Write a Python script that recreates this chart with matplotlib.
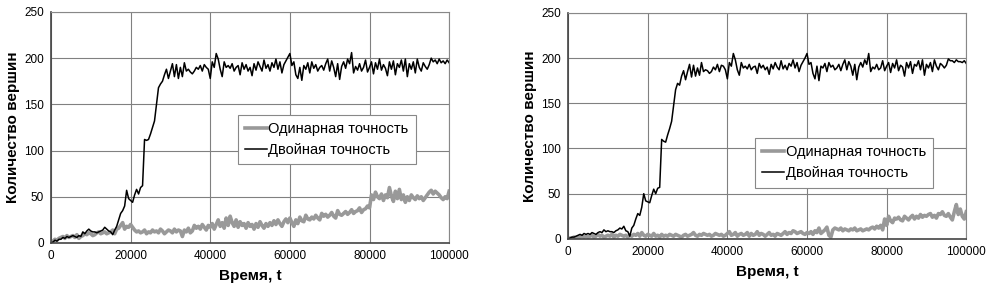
import numpy as np
import matplotlib.pyplot as plt

plt.rcParams['font.family'] = ['Liberation Sans', 'DejaVu Sans']

# time axis: every 500 steps from 0 to 100000
t = np.arange(0, 100001, 500)

# left chart
double_left = [
    0, 1, 3, 2, 4, 4, 6, 5, 7, 6,
    7, 8, 7, 6, 8, 7, 12, 10, 13, 15,
    13, 12, 12, 11, 12, 13, 14, 17, 15, 13,
    12, 9, 14, 18, 25, 32, 35, 40, 57, 48,
    46, 44, 52, 58, 53, 60, 62, 112, 111, 112,
    118, 125, 132, 150, 168, 172, 175, 182, 188, 178,
    186, 194, 180, 193, 178, 190, 180, 195, 186, 188,
    185, 183, 186, 190, 188, 192, 186, 193, 190, 188,
    178, 196, 190, 205, 199, 188, 180, 196, 190, 192,
    189, 194, 186, 190, 192, 182, 195, 188, 193, 186,
    190, 181, 194, 187, 196, 191, 186, 198, 189, 193,
    186, 195, 190, 199, 188, 196, 184, 193, 197, 201,
    205, 192, 196, 182, 178, 190, 176, 192, 188, 195,
    184, 196, 189, 193, 186, 190, 192, 187, 194, 199,
    186, 197, 190, 180, 194, 177, 191, 196, 189, 199,
    194, 206, 184, 191, 187, 194, 186, 190, 198, 185,
    190, 196, 183, 195, 188, 199, 187, 193, 189, 181,
    196, 188, 197, 182, 194, 190, 198, 186, 199, 180,
    194, 188, 196, 184, 199, 190, 186, 195, 191, 188,
    193, 200, 196, 198, 194, 199, 195, 197, 194, 198, 195,
]
single_left = [
    0, 2, 4, 3, 5, 6, 7, 5, 8, 6,
    7, 8, 6, 9, 5, 7, 8, 10, 9, 11,
    10, 8, 9, 11, 12, 10, 11, 12, 10, 11,
    12, 14, 10, 15, 16, 19, 22, 15, 18, 17,
    20, 17, 14, 12, 13, 11, 12, 14, 10, 12,
    11, 14, 12, 13, 11, 15, 13, 10, 12, 14,
    13, 11, 15, 12, 14, 13, 7, 14, 12, 16,
    11, 13, 19, 16, 18, 15, 20, 17, 14, 19,
    17, 21, 15, 20, 25, 18, 22, 16, 27, 19,
    29, 22, 18, 25, 17, 23, 19, 21, 16, 22,
    18, 20, 15, 21, 17, 23, 19, 16, 21, 18,
    22, 19, 24, 20, 25, 21, 18, 23, 26, 22,
    27, 22, 18, 25, 21, 28, 24, 23, 30, 26,
    25, 28, 26, 30, 27, 25, 32, 29, 31, 28,
    30, 33, 29, 27, 35, 31, 30, 32, 34, 31,
    33, 36, 32, 34, 35, 38, 33, 36, 37, 40,
    38, 52, 47, 55, 50, 48, 53, 46, 52, 49,
    60, 51, 45, 56, 48, 58, 47, 52, 44, 50,
    46, 52, 49, 47, 51, 48, 50, 46, 49, 52,
    55, 57, 53, 56, 54, 52, 49, 47, 50, 48, 56,
]

# right chart
double_right = [
    0, 1, 2, 2, 3, 4, 5, 4, 6, 5,
    6, 5, 7, 6, 5, 7, 8, 7, 10, 8,
    9, 8, 8, 7, 9, 10, 12, 11, 14, 9,
    8, 3, 12, 15, 22, 28, 26, 35, 50, 42,
    41, 40, 48, 55, 50, 56, 57, 110, 108, 107,
    115, 122, 130, 148, 165, 172, 170, 180, 186, 176,
    185, 193, 179, 192, 180, 189, 181, 195, 185, 187,
    186, 183, 185, 190, 187, 193, 185, 192, 191, 187,
    177, 195, 191, 205, 198, 187, 181, 195, 189, 191,
    188, 193, 187, 190, 191, 183, 194, 189, 192, 187,
    190, 182, 193, 188, 195, 190, 187, 197, 188, 192,
    187, 194, 191, 198, 189, 195, 185, 192, 196, 200,
    205, 193, 195, 183, 177, 191, 175, 191, 189, 194,
    185, 195, 190, 192, 187, 189, 193, 186, 193, 198,
    187, 196, 191, 181, 193, 176, 190, 195, 190, 198,
    193, 205, 185, 190, 188, 193, 187, 189, 197, 186,
    191, 195, 184, 194, 189, 198, 186, 192, 190, 180,
    195, 189, 196, 183, 193, 191, 197, 187, 198, 181,
    193, 189, 195, 185, 198, 191, 187, 194, 192, 189,
    192, 199, 197, 197, 195, 198, 196, 196, 195, 197, 194,
]
single_right = [
    0, 1, 1, 2, 1, 2, 2, 3, 2, 3,
    2, 3, 4, 2, 3, 5, 3, 4, 2, 3,
    4, 3, 5, 2, 4, 3, 5, 4, 3, 4,
    2, 4, 3, 5, 4, 6, 3, 7, 4, 3,
    5, 4, 3, 6, 3, 4, 2, 5, 3, 4,
    3, 5, 4, 3, 5, 4, 3, 2, 4, 5,
    3, 4, 5, 7, 4, 3, 5, 4, 6, 5,
    4, 5, 3, 4, 6, 5, 4, 5, 3, 4,
    6, 8, 4, 5, 7, 3, 5, 6, 4, 5,
    7, 3, 6, 4, 5, 8, 4, 6, 5, 3,
    5, 7, 4, 5, 3, 6, 5, 4, 6, 8,
    5, 7, 6, 9, 8, 6, 7, 8, 6, 5,
    7, 6, 8, 5, 9, 7, 12, 6, 8, 10,
    13, 4, 2, 10, 12, 11, 10, 12, 9, 11,
    10, 9, 11, 10, 12, 9, 10, 11, 9, 10,
    11, 10, 12, 13, 11, 14, 12, 15, 10, 22,
    15, 25, 20, 18, 23, 22, 24, 21, 20, 25,
    23, 21, 24, 26, 22, 25, 23, 27, 24, 26,
    25, 27, 28, 24, 26, 23, 28, 27, 30, 26,
    25, 28, 24, 21, 30, 38, 27, 33, 25, 22, 30,
]

labels = ["Одинарная точность", "Двойная точность"]

fig = plt.figure(figsize=(9.88, 2.91), dpi=100)
ax1 = fig.add_axes([0.0516, 0.165, 0.403, 0.794])
ax2 = fig.add_axes([0.575, 0.179, 0.403, 0.777])

panels = [(ax1, single_left, double_left, (0.45, 0.339, 0.485, 0.218)),
          (ax2, single_right, double_right, (0.452, 0.235, 0.483, 0.203))]

for ax, single, double, legbox in panels:
    ax.plot(t, single, color="#999999", lw=2.6, label=labels[0])
    ax.plot(t, double, color="black", lw=1.1, label=labels[1])
    ax.set_xlim(0, 100000)
    ax.set_ylim(0, 250)
    ax.set_xticks(range(0, 100001, 20000))
    ax.set_yticks(range(0, 251, 50))
    ax.grid(True, color="#808080", lw=0.8)
    ax.set_axisbelow(True)
    for s in ["top", "right"]:
        ax.spines[s].set_color("#888888")
        ax.spines[s].set_linewidth(0.8)
    for s in ["left", "bottom"]:
        ax.spines[s].set_color("#444444")
        ax.spines[s].set_linewidth(1.2)
    ax.tick_params(labelsize=8.5, length=0, pad=5)
    ax.set_xlabel("Время, t", fontsize=11, fontweight="bold", labelpad=5)
    ax.set_ylabel("Количество вершин", fontsize=11, fontweight="bold", labelpad=3)
    leg = ax.legend(loc="center", bbox_to_anchor=legbox, fontsize=10.5,
                    fancybox=False, framealpha=1, edgecolor="#888888",
                    handlelength=1.5, handletextpad=0.1, borderpad=0.5)
    leg.get_frame().set_linewidth(0.8)

fig.savefig("out.png", dpi=100)
